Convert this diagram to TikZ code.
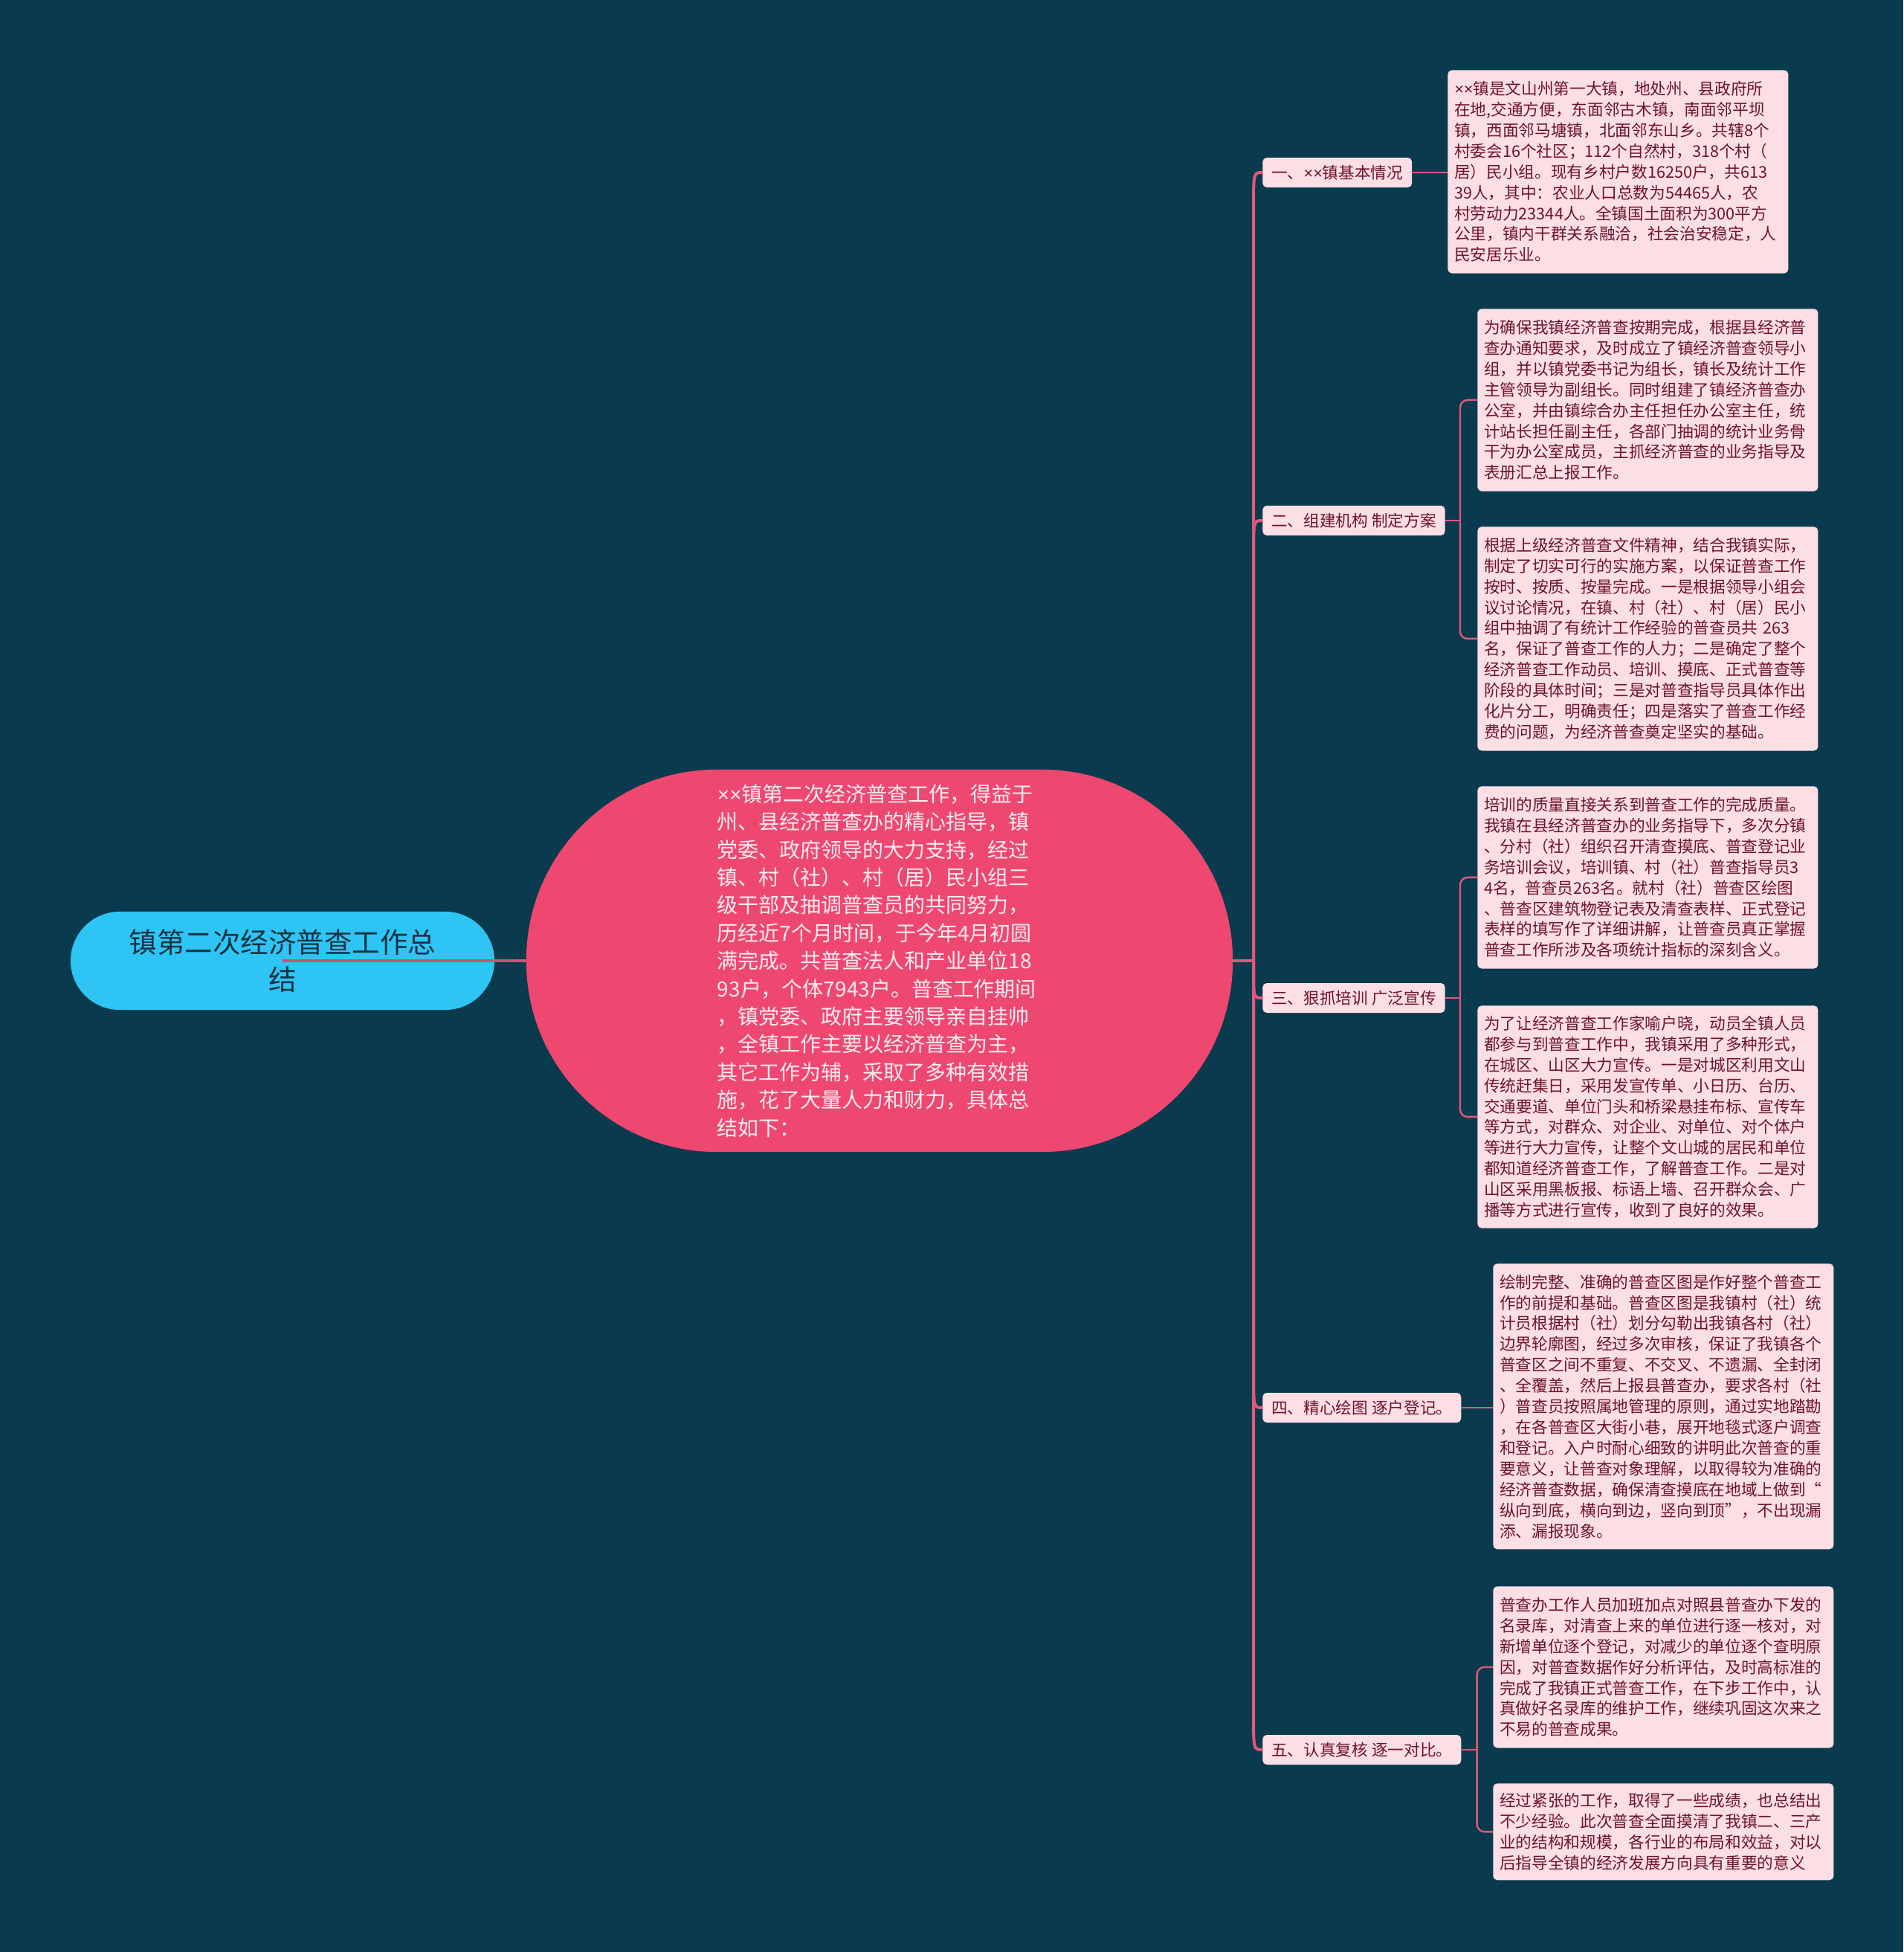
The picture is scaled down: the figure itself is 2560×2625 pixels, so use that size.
\documentclass[tikz,border=0pt]{standalone}
\usepackage{fontspec}
\setmainfont{Noto Sans CJK SC}
\newfontfamily\latinfont{Liberation Sans}
\newcommand{\xmark}{{\latinfont ×}}
\usepackage{tikz}
\usetikzlibrary{calc}
\definecolor{bgcol}{RGB}{10,58,77}
\definecolor{maincol}{RGB}{239,72,112}
\definecolor{rootcol}{RGB}{46,197,245}
\definecolor{leafcol}{RGB}{252,222,229}
\definecolor{inkcol}{RGB}{110,20,40}
\definecolor{linkcol}{RGB}{226,88,122}
\definecolor{rootlink}{RGB}{200,84,118}
\definecolor{roottext}{RGB}{20,50,65}
\definecolor{maintext}{RGB}{255,236,241}

\begin{document}
\begin{tikzpicture}[x=0.025cm, y=-0.025cm,
  rootbox/.style={fill=rootcol, rounded corners=1.65cm, minimum width=14.25cm, minimum height=3.3cm,
                  inner sep=0pt, align=center, text=roottext, font=\fontsize{26.7}{35.7}\selectfont},
  mainbox/.style={fill=maincol, rounded corners=6.4cm, minimum width=23.75cm, minimum height=12.85cm,
                  inner sep=0pt, text width=10.9cm, align=left, text=maintext, font=\fontsize{19.9}{26.6}\selectfont},
  topic/.style={fill=leafcol, rounded corners=4pt, minimum height=1cm, inner xsep=0.3cm, inner ysep=0pt,
                anchor=west, text=inkcol, font=\fontsize{15.4}{18}\selectfont},
  note/.style={fill=leafcol, rounded corners=4pt, anchor=north west, minimum width=11.45cm, text width=11cm,
               inner xsep=0.225cm, inner ysep=0pt, align=left, text=inkcol, font=\fontsize{15.4}{19.85}\selectfont},
  spine/.style={draw=linkcol, line width=0.1cm},
  twig/.style={draw=linkcol, line width=0.06cm, rounded corners=0.25cm},
]
\useasboundingbox (0,0) rectangle (2560,2625);
\fill[bgcol] (0,0) rectangle (2560,2625);

% Root and summary
\node[rootbox] (root) at (380,1292) {镇第二次经济普查工作总\\结};
\node[mainbox] (main) at (1183,1292) {\xmark\xmark 镇第二次经济普查工作，得益于\\
州、县经济普查办的精心指导，镇\\
党委、政府领导的大力支持，经过\\
镇、村（社）、村（居）民小组三\\
级干部及抽调普查员的共同努力，\\
历经近7个月时间，于今年4月初圆\\
满完成。共普查法人和产业单位18\\
93户，个体7943户。普查工作期间\\
，镇党委、政府主要领导亲自挂帅\\
，全镇工作主要以经济普查为主，\\
其它工作为辅，采取了多种有效措\\
施，花了大量人力和财力，具体总\\
结如下：};
\draw[draw=rootlink, line width=0.1cm] (root.center) -- (main.west);

% Topics
\node[topic] (b1) at (1698,232) {一、\xmark\xmark 镇基本情况};
\node[topic] (b2) at (1698,700) {二、组建机构 制定方案};
\node[topic] (b3) at (1698,1342) {三、狠抓培训 广泛宣传};
\node[topic] (b4) at (1698,1893) {四、精心绘图 逐户登记。};
\node[topic] (b5) at (1698,2353) {五、认真复核 逐一对比。};

\coordinate (jn) at (1686,1292);
\draw[spine] (main.east) -- (jn);
\foreach \t/\s in {b1/50, b2/50, b3/-40, b4/-50, b5/-50}
  \draw[spine] (jn) -- ($(jn |- \t.west)+(0,\s)$) .. controls (jn |- \t.west) .. (\t.west);

% Notes
\node[note, minimum height=6.83cm] (A) at (1947,94) {\xmark\xmark 镇是文山州第一大镇，地处州、县政府所\\
在地,交通方便，东面邻古木镇，南面邻平坝\\
镇，西面邻马塘镇，北面邻东山乡。共辖8个\\
村委会16个社区；112个自然村，318个村（\\
居）民小组。现有乡村户数16250户，共613\\
39人，其中：农业人口总数为54465人，农\\
村劳动力23344人。全镇国土面积为300平方\\
公里，镇内干群关系融洽，社会治安稳定，人\\
民安居乐业。};

\node[note, minimum height=6.13cm] (B) at (1987,415) {为确保我镇经济普查按期完成，根据县经济普\\
查办通知要求，及时成立了镇经济普查领导小\\
组，并以镇党委书记为组长，镇长及统计工作\\
主管领导为副组长。同时组建了镇经济普查办\\
公室，并由镇综合办主任担任办公室主任，统\\
计站长担任副主任，各部门抽调的统计业务骨\\
干为办公室成员，主抓经济普查的业务指导及\\
表册汇总上报工作。};

\node[note, minimum height=7.53cm] (C) at (1987,708) {根据上级经济普查文件精神，结合我镇实际，\\
制定了切实可行的实施方案，以保证普查工作\\
按时、按质、按量完成。一是根据领导小组会\\
议讨论情况，在镇、村（社）、村（居）民小\\
组中抽调了有统计工作经验的普查员共 263\\
名，保证了普查工作的人力；二是确定了整个\\
经济普查工作动员、培训、摸底、正式普查等\\
阶段的具体时间；三是对普查指导员具体作出\\
化片分工，明确责任；四是落实了普查工作经\\
费的问题，为经济普查奠定坚实的基础。};

\node[note, minimum height=6.13cm] (D) at (1987,1057) {培训的质量直接关系到普查工作的完成质量。\\
我镇在县经济普查办的业务指导下，多次分镇\\
、分村（社）组织召开清查摸底、普查登记业\\
务培训会议，培训镇、村（社）普查指导员3\\
4名，普查员263名。就村（社）普查区绘图\\
、普查区建筑物登记表及清查表样、正式登记\\
表样的填写作了详细讲解，让普查员真正掌握\\
普查工作所涉及各项统计指标的深刻含义。};

\node[note, minimum height=7.48cm] (E) at (1987,1352) {为了让经济普查工作家喻户晓，动员全镇人员\\
都参与到普查工作中，我镇采用了多种形式，\\
在城区、山区大力宣传。一是对城区利用文山\\
传统赶集日，采用发宣传单、小日历、台历、\\
交通要道、单位门头和桥梁悬挂布标、宣传车\\
等方式，对群众、对企业、对单位、对个体户\\
等进行大力宣传，让整个文山城的居民和单位\\
都知道经济普查工作，了解普查工作。二是对\\
山区采用黑板报、标语上墙、召开群众会、广\\
播等方式进行宣传，收到了良好的效果。};

\node[note, minimum height=9.6cm] (F) at (2008,1699) {绘制完整、准确的普查区图是作好整个普查工\\
作的前提和基础。普查区图是我镇村（社）统\\
计员根据村（社）划分勾勒出我镇各村（社）\\
边界轮廓图，经过多次审核，保证了我镇各个\\
普查区之间不重复、不交叉、不遗漏、全封闭\\
、全覆盖，然后上报县普查办，要求各村（社\\
）普查员按照属地管理的原则，通过实地踏勘\\
，在各普查区大街小巷，展开地毯式逐户调查\\
和登记。入户时耐心细致的讲明此次普查的重\\
要意义，让普查对象理解，以取得较为准确的\\
经济普查数据，确保清查摸底在地域上做到“\\
纵向到底，横向到边，竖向到顶”，不出现漏\\
添、漏报现象。};

\node[note, minimum height=5.43cm] (G) at (2008,2133) {普查办工作人员加班加点对照县普查办下发的\\
名录库，对清查上来的单位进行逐一核对，对\\
新增单位逐个登记，对减少的单位逐个查明原\\
因，对普查数据作好分析评估，及时高标准的\\
完成了我镇正式普查工作，在下步工作中，认\\
真做好名录库的维护工作，继续巩固这次来之\\
不易的普查成果。};

\node[note, minimum height=3.25cm] (H) at (2008,2398) {经过紧张的工作，取得了一些成绩，也总结出\\
不少经验。此次普查全面摸清了我镇二、三产\\
业的结构和规模，各行业的布局和效益，对以\\
后指导全镇的经济发展方向具有重要的意义};

% Links to notes
\draw[twig] (b1.east) -- (b1.east -| A.west);
\coordinate (k2) at ($(b2.east)+(20,0)$);
\draw[twig] (b2.east) -- (k2);
\draw[twig] (k2) |- (B.west);
\draw[twig] (k2) |- (C.west);
\coordinate (k3) at ($(b3.east)+(20,0)$);
\draw[twig] (b3.east) -- (k3);
\draw[twig] (k3) |- (D.west);
\draw[twig] (k3) |- (E.west);
\draw[twig] (b4.east) -- (b4.east -| F.west);
\coordinate (k5) at ($(b5.east)+(21,0)$);
\draw[twig] (b5.east) -- (k5);
\draw[twig] (k5) |- (G.west);
\draw[twig] (k5) |- (H.west);
\end{tikzpicture}
\end{document}
